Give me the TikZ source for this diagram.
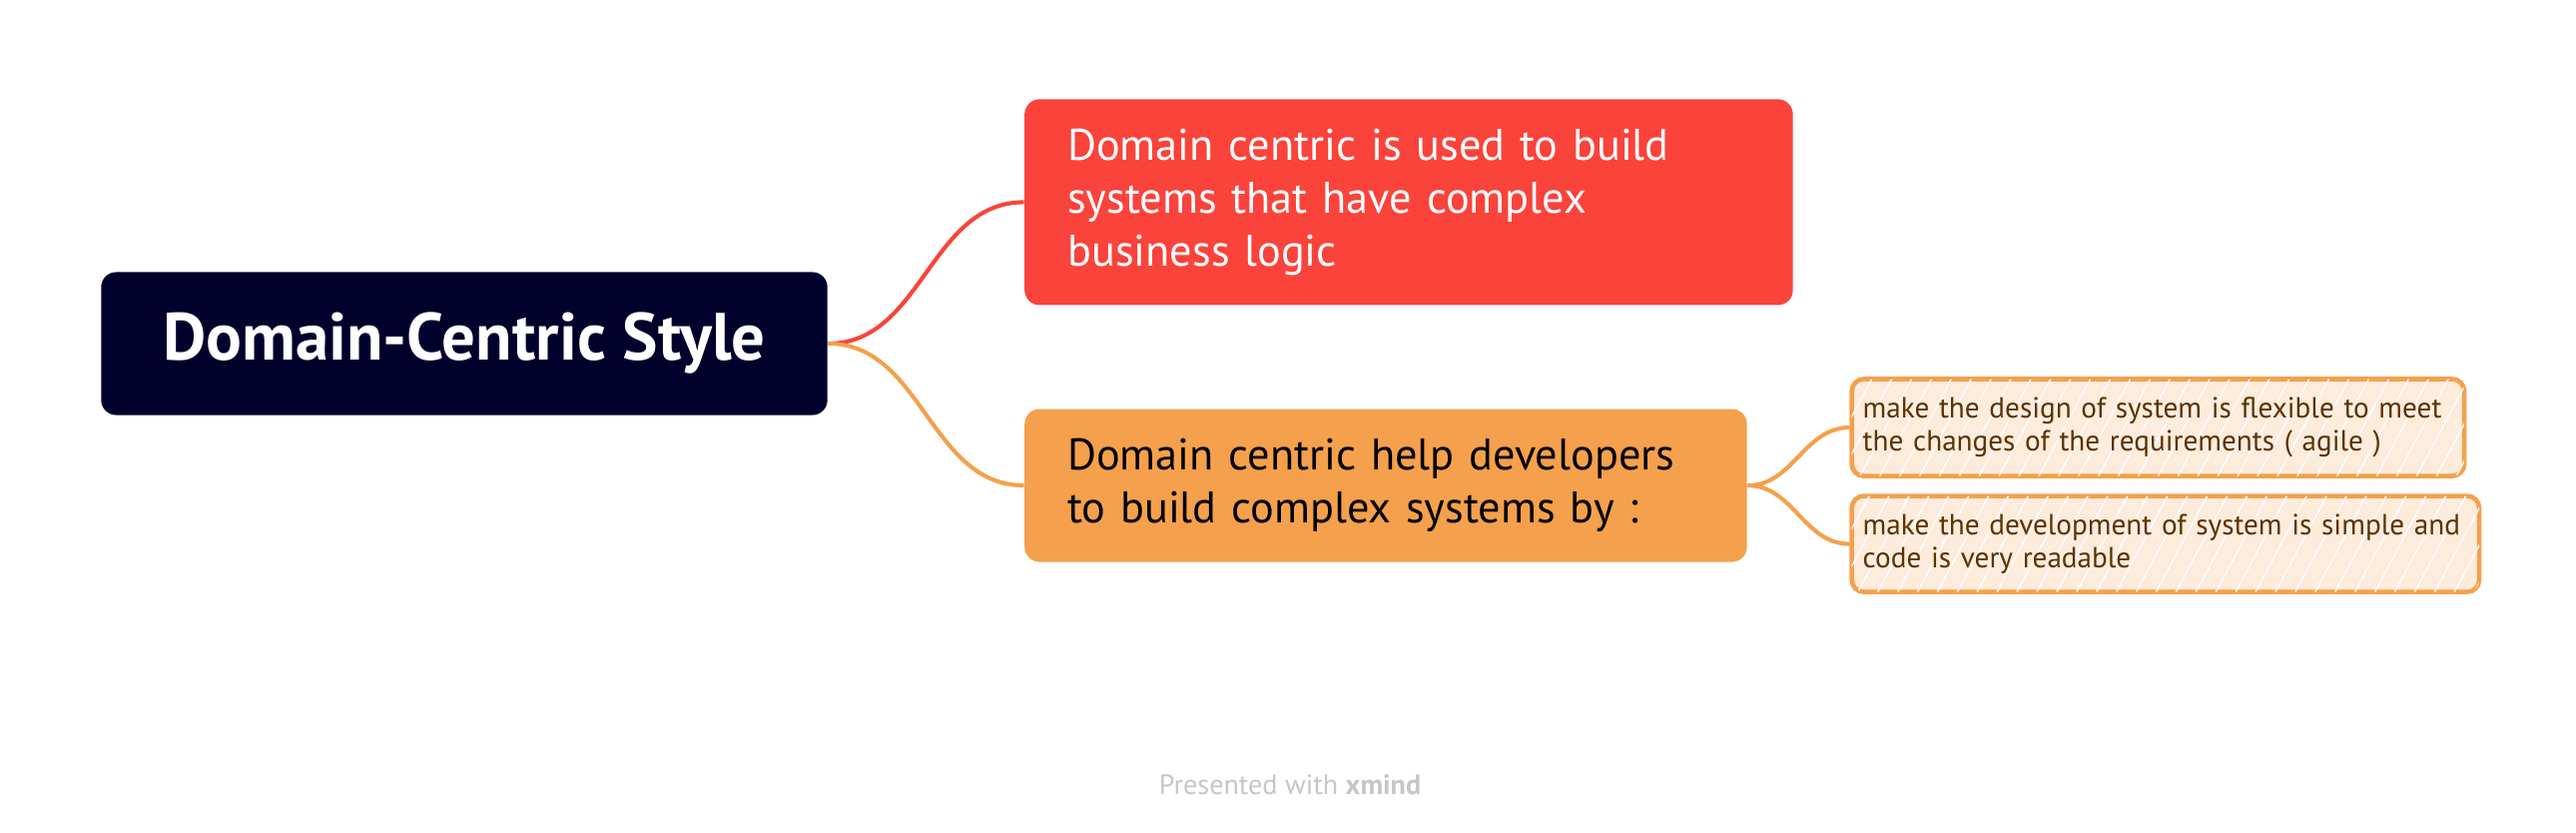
\documentclass[tikz,border=0pt]{standalone}
\usepackage{fontspec}
\setmainfont{PT Sans}
\usetikzlibrary{positioning,patterns.meta}
\definecolor{rootnavy}{HTML}{01022B}
\definecolor{topicred}{HTML}{FA433B}
\definecolor{topicorange}{HTML}{F5A04C}
\definecolor{notepeach}{HTML}{FDEBDC}
\definecolor{notebrown}{HTML}{5C3200}
\definecolor{footgray}{HTML}{C6C6C6}
\begin{document}
\begin{tikzpicture}[x=0.01cm, y=-0.01cm,
	topic/.style={rounded corners=0.15cm, inner xsep=0.43cm, inner ysep=0pt, align=left,
		font=\fontsize{12.6}{15}\selectfont},
	note/.style={draw=topicorange, line width=1.3pt, fill=notepeach, rounded corners=0.12cm,
		inner xsep=0.11cm, inner ysep=0pt, align=left, text=notebrown,
		font=\fontsize{8.3}{9.4}\selectfont,
		postaction={pattern={Lines[angle=62,distance=5pt,line width=0.4pt]}, pattern color=white}},
	branch/.style={line width=1.15pt}]
	\useasboundingbox (0,0) rectangle (2580,834);
	% Center
	\node[fill=rootnavy, rounded corners=0.15cm, minimum width=7.27cm, minimum height=1.43cm, text=white,
		font=\bfseries\fontsize{19}{22}\selectfont] (root) at (465,344) {Domain-Centric Style} ;
	% Main topics
	\node[topic, fill=topicred, text=white, text width=6.83cm, minimum height=2.06cm,
		right=1.96cm of root, yshift=1.415cm] (used) {Domain centric is used to build\\systems that have complex\\business logic} ;
	\node[topic, fill=topicorange, text=black, text width=6.37cm, minimum height=1.53cm,
		right=1.96cm of root, yshift=-1.42cm] (help) {Domain centric help developers\\to build complex systems by :} ;
	% Subtopics
	\node[note, text width=5.91cm, minimum height=0.97cm, right=1.02cm of help, yshift=0.58cm] (agile)
		{make the design of system is flexible to meet\\the changes of the requirements ( agile )} ;
	\node[note, text width=6.06cm, minimum height=0.96cm, right=1.02cm of help, yshift=-0.585cm] (simple)
		{make the development of system is simple and\\code is very readable} ;
	\draw[branch, topicred] (root.east) to[out=0, in=180] (used.west) ;
	\draw[branch, topicorange] (root.east) to[out=0, in=180] (help.west) ;
	\draw[branch, topicorange] (help.east) to[out=0, in=180] (agile.west) ;
	\draw[branch, topicorange] (help.east) to[out=0, in=180] (simple.west) ;
	% Footer
	\node[text=footgray, font=\fontsize{8}{10}\selectfont] (credit) at (1292,786) {Presented with \textbf{xmind}} ;
\end{tikzpicture}
\end{document}
